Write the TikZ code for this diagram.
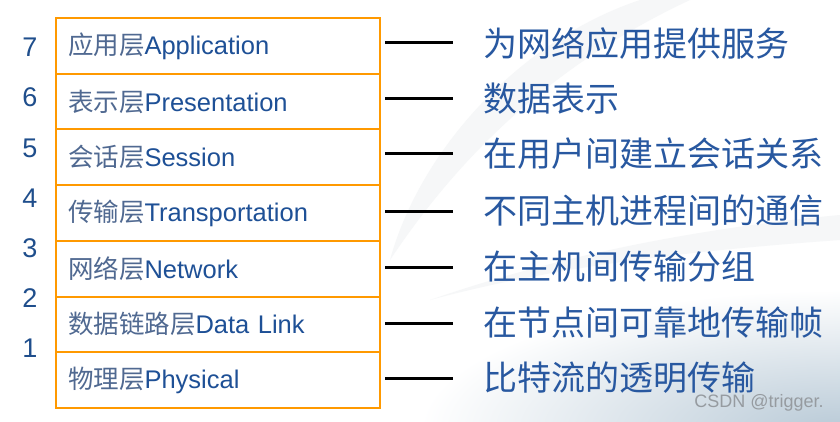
\documentclass[tikz,border=0pt]{standalone}
\usepackage{fontspec}
\setmainfont{Liberation Sans}
\newfontfamily\zh{Noto Sans CJK SC}
\usetikzlibrary{calc}
\definecolor{boxorange}{RGB}{255,153,0}
\definecolor{numblue}{RGB}{31,78,140}
\definecolor{enblue}{RGB}{30,80,150}
\definecolor{zhgray}{RGB}{80,105,145}
\definecolor{descblue}{RGB}{40,88,160}
\definecolor{bgcity}{RGB}{185,202,215}
\definecolor{swoosh}{RGB}{246,247,248}
\definecolor{wmark}{RGB}{150,155,160}
\tikzset{
  layer/.style={draw=boxorange, line width=2pt, minimum width=324pt, minimum height=55.7pt,
    text width=300pt, align=left, inner xsep=12pt, inner ysep=0pt, outer sep=0pt, anchor=north west,
    font=\fontsize{25.5}{30}\selectfont, text=enblue},
  desc/.style={anchor=west, inner sep=0pt, text=descblue, font=\zh\fontsize{34}{40}\selectfont},
  num/.style={inner sep=0pt, text=numblue, font=\fontsize{27}{32}\selectfont},
  tick/.style={line width=3pt, black},
  wm/.style={inner sep=0pt, text=wmark, font=\fontsize{18}{20}\selectfont}
}
\newcommand{\zhp}[1]{{\zh\color{zhgray}#1}}
\begin{document}
\begin{tikzpicture}[x=1pt,y=-1pt]
\useasboundingbox (0,0) rectangle (840,422);
% background
\fill[white] (0,0) rectangle (840,422);
\begin{scope}
\clip (0,0) rectangle (840,422);
\fill[swoosh] (640,0) .. controls (520,40) and (420,150) .. (390,260)
  .. controls (450,170) and (540,70) .. (690,0) -- cycle;
\fill[swoosh] (840,240) .. controls (700,250) and (560,265) .. (430,300)
  .. controls (560,255) and (700,228) .. (840,215) -- cycle;
\shade[inner color=bgcity, outer color=white] (840,430) ellipse (420 and 140);
\end{scope}
% layers
\node[layer] (L7) at (56,18) {\zhp{应用层}Application};
\node[layer] (L6) at (L7.south west) {\zhp{表示层}Presentation};
\node[layer] (L5) at (L6.south west) {\zhp{会话层}Session};
\node[layer] (L4) at (L5.south west) {\zhp{传输层}Transportation};
\node[layer] (L3) at (L4.south west) {\zhp{网络层}Network};
\node[layer] (L2) at (L3.south west) {\zhp{数据链路层}Data Link};
\node[layer] (L1) at (L2.south west) {\zhp{物理层}Physical};
% numbers
\node[num] (N7) at (30,47) {7};
\node[num] (N6) at (30,97) {6};
\node[num] (N5) at (30,148) {5};
\node[num] (N4) at (30,198) {4};
\node[num] (N3) at (30,248) {3};
\node[num] (N2) at (30,298) {2};
\node[num] (N1) at (30,348) {1};
% descriptions
\node[desc] (D7) at (483,43) {为网络应用提供服务};
\node[desc] (D6) at (483,99) {数据表示};
\node[desc] (D5) at (483,154) {在用户间建立会话关系};
\node[desc] (D4) at (483,211) {不同主机进程间的通信};
\node[desc] (D3) at (483,267) {在主机间传输分组};
\node[desc] (D2) at (483,323) {在节点间可靠地传输帧};
\node[desc] (D1) at (483,378) {比特流的透明传输};
% ticks
\foreach \i in {1,...,7}{
  \draw[tick] ($(L\i.east|-D\i.west)+(5,0)$) -- ($(D\i.west)+(-30,0)$);
}
% watermark
\node[wm] (WM) at (759,403) {CSDN @trigger.};
\end{tikzpicture}
\end{document}
